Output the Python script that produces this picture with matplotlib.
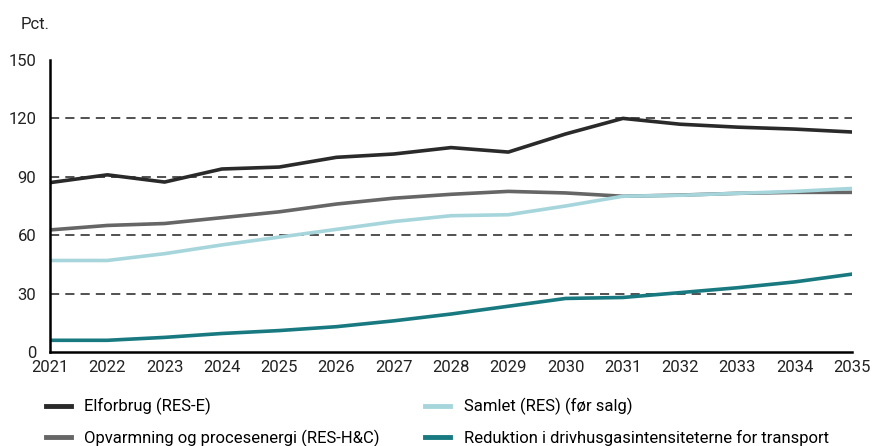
import matplotlib.pyplot as plt

plt.rcParams['font.family'] = ['Roboto', 'DejaVu Sans']

years = list(range(2021, 2036))
elforbrug = [87, 91, 87.3, 94, 95, 100, 101.7, 105, 102.7, 112, 120, 117, 115.5, 114.5, 113]
opvarmning = [62.7, 65, 66, 69, 72, 76, 79, 81, 82.5, 81.7, 80, 80.6, 81.5, 82, 82]
samlet = [47, 47, 50.5, 55, 59, 63, 67, 70, 70.5, 75, 80, 80.5, 81.5, 82.5, 84]
transport = [6, 6, 7.5, 9.5, 11, 13, 16, 19.5, 23.5, 27.5, 28, 30.5, 33, 36, 40]

labels = ["Elforbrug (RES-E)", "Opvarmning og procesenergi (RES-H&C)",
          "Samlet (RES) (før salg)", "Reduktion i drivhusgasintensiteterne for transport"]
colors = ["#2a2a2a", "#666666", "#a6d6dc", "#187a80"]
yticks = [0, 30, 60, 90, 120, 150]

fig = plt.figure(figsize=(8.73, 4.46), dpi=100)
ax = fig.add_axes([0.0573, 0.2108, 0.9187, 0.6547])

for y in yticks[1:-1]:
    ax.axhline(y, color="#222222", lw=1.1, ls=(0, (6, 4)), zorder=1)

lines = []
for vals, lab, c in zip([elforbrug, opvarmning, samlet, transport], labels, colors):
    ln, = ax.plot(years, vals, color=c, lw=2.6, label=lab, zorder=3)
    lines.append(ln)

ax.set_xlim(2021, 2035)
ax.set_ylim(0, 150)
ax.set_xticks(years)
ax.set_yticks(yticks)
ax.tick_params(length=0, labelsize=12, colors="#222222")
ax.tick_params(axis="x", pad=6)
ax.tick_params(axis="y", pad=10)
for s in ["top", "right"]:
    ax.spines[s].set_visible(False)
for s in ["left", "bottom"]:
    ax.spines[s].set_linewidth(1.8)
    ax.spines[s].set_color("black")
    ax.spines[s].set_zorder(4)

fig.text(0.024, 0.945, "Pct.", fontsize=12, color="#222222", va="center")

leg = fig.legend(handles=lines, labels=labels, ncol=2, loc="lower left",
                 bbox_to_anchor=(0.035, -0.036), frameon=False, fontsize=12,
                 handlelength=1.5, handletextpad=0.8, columnspacing=2.75,
                 labelspacing=0.87)
for h in leg.legend_handles:
    h.set_linewidth(3.5)

fig.savefig("out.png", dpi=100)
